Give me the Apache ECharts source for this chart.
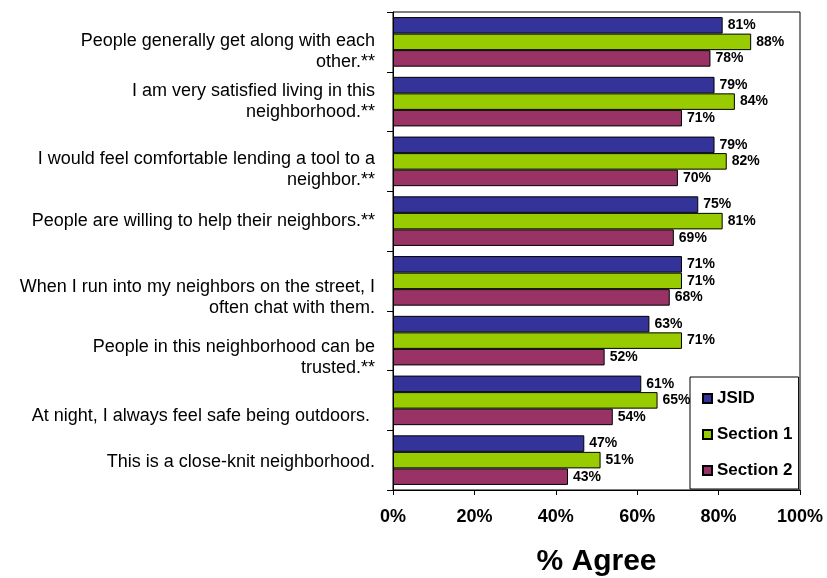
<!DOCTYPE html>
<html>
<head>
<meta charset="utf-8">
<title>Neighborhood perceptions</title>
<script src="https://cdn.jsdelivr.net/npm/echarts@6/dist/echarts.min.js"></script>
<style>
  html, body { margin: 0; padding: 0; background: #fff; }
  #chart { width: 827px; height: 578px; }
</style>
</head>
<body>
<div id="chart"></div>
<script>
// Survey statements, listed top to bottom
const categories = [
  'People generally get along with each\nother.**',
  'I am very satisfied living in this\nneighborhood.**',
  'I would feel comfortable lending a tool to a\nneighbor.**',
  'People are willing to help their neighbors.**',
  'When I run into my neighbors on the street, I\noften chat with them.',
  'People in this neighborhood can be\ntrusted.**',
  'At night, I always feel safe being outdoors. ',
  'This is a close-knit neighborhood.'
];

// Percent agreeing, per group
const jsid     = [81, 79, 79, 75, 71, 63, 61, 47];
const section1 = [88, 84, 82, 81, 71, 71, 65, 51];
const section2 = [78, 71, 70, 69, 68, 52, 54, 43];

const seriesNames = ['JSID', 'Section 1', 'Section 2'];
const seriesColors = ['#333399', '#99CC00', '#993366'];
const seriesData = [jsid, section1, section2];

// Downward nudge (px) of each statement label relative to its band centre
const labelNudge = [10, 0, 8, 0, 17, 17, 16, 2];

const FONT = 'Arial, "Liberation Sans", Helvetica, sans-serif';

// An empty spacer line of height 2*n on top shifts a centred label down by n
const spacerRich = {};
labelNudge.forEach((n, i) => {
  if (n > 0) spacerRich['s' + i] = { height: n * 2, lineHeight: n * 2, fontSize: 1 };
});

const chart = echarts.init(document.getElementById('chart'), null, { renderer: 'canvas' });

const option = {
  backgroundColor: '#fff',
  animation: false,
  textStyle: { fontFamily: FONT, color: '#000' },
  grid: {
    left: 393, right: 27, top: 12, bottom: 88,
    outerBoundsMode: 'none',
    containLabel: false,
    show: true, borderColor: '#000', borderWidth: 1, backgroundColor: 'transparent'
  },
  legend: {
    orient: 'vertical',
    left: 690, top: 377,
    padding: [13, 6, 10, 12],
    itemGap: 19,
    itemWidth: 9, itemHeight: 9,
    icon: 'rect',
    backgroundColor: '#fff',
    borderColor: '#000', borderWidth: 1,
    textStyle: { fontFamily: FONT, fontSize: 17, fontWeight: 'bold', color: '#000' },
    data: seriesNames
  },
  xAxis: {
    type: 'value',
    min: 0, max: 100, interval: 20,
    axisLine: { show: true, lineStyle: { color: '#000', width: 1 } },
    axisTick: { show: true, length: 5, lineStyle: { color: '#000' } },
    splitLine: { show: false },
    axisLabel: {
      formatter: '{value}%', margin: 18,
      fontFamily: FONT, fontSize: 18, fontWeight: 'bold', color: '#000'
    },
    name: '% Agree',
    nameLocation: 'middle',
    nameGap: 57,
    nameTextStyle: { fontFamily: FONT, fontSize: 30, fontWeight: 'bold', color: '#000' }
  },
  yAxis: {
    type: 'category',
    inverse: true,
    data: categories,
    axisLine: { show: true, lineStyle: { color: '#000', width: 1 } },
    axisTick: { show: true, length: 6, lineStyle: { color: '#000' } },
    splitLine: { show: false },
    axisLabel: {
      interval: 0,
      margin: 18, fontFamily: FONT, fontSize: 18, lineHeight: 21,
      color: '#000', align: 'right',
      formatter: (value, idx) => (labelNudge[idx] > 0 ? '{s' + idx + '|}\n' + value : value),
      rich: spacerRich
    }
  },
  series: seriesNames.map((name, i) => ({
    name: name,
    type: 'bar',
    data: seriesData[i],
    barGap: '0%',
    barCategoryGap: '17%',
    itemStyle: { color: seriesColors[i], borderColor: '#000', borderWidth: 1 },
    label: {
      show: true, position: 'right', distance: 5,
      formatter: '{c}%',
      fontFamily: FONT, fontSize: 14, fontWeight: 'bold', color: '#000'
    },
    emphasis: { disabled: true }
  }))
};

chart.setOption(option);
</script>
</body>
</html>
